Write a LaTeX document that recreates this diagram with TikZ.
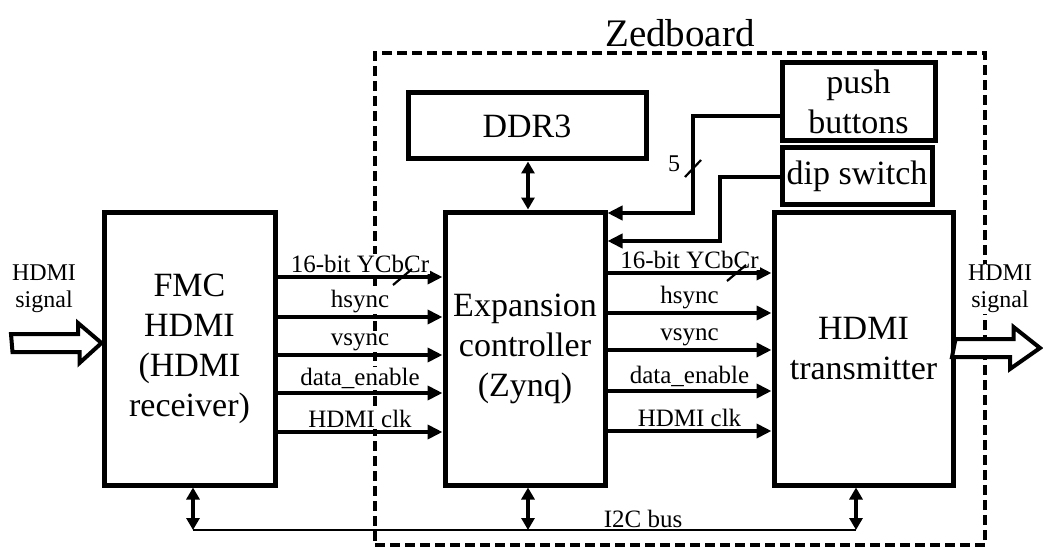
\documentclass[tikz,border=0pt]{standalone}
\usepackage{fontspec}
\setmainfont{Liberation Serif}
\usetikzlibrary{calc, arrows.meta}
\tikzstyle{block}  = [rectangle, draw=black, line width=5pt, text centered, align=center, inner sep=0pt, font=\fontsize{34}{40}\selectfont]
\tikzstyle{sig}    = [line width=4.5pt, -{Triangle[length=15pt,width=14pt]}]
\tikzstyle{bidir}  = [line width=4.5pt, {Triangle[length=12pt,width=13pt]}-{Triangle[length=12pt,width=13pt]}]
\tikzstyle{lbl}    = [font=\fontsize{25}{28}\selectfont, inner sep=1pt, anchor=south, fill=white]
\tikzstyle{fat}    = [line width=4pt, line join=miter, fill=white]
\tikzstyle{tick}   = [line width=2.2pt]

\begin{document}
\begin{tikzpicture}[x=1pt, y=-1pt]
    \useasboundingbox (0,0) rectangle (1043,548);

    \node (zed)  [draw, line width=4pt, dash pattern=on 10pt off 5pt, minimum width=610, minimum height=492, inner sep=0pt] at (680,299) {};
    \node (zedlbl) [anchor=south, inner sep=0pt, font=\fontsize{39}{44}\selectfont] at (680,47) {Zedboard};

    \node (fmc)  [block, minimum width=171, minimum height=273] at (189.5,348.5) {FMC\\HDMI\\(HDMI\\receiver)};
    \node (exp)  [block, minimum width=160, minimum height=273] at (525,348.5) {Expansion\\controller\\(Zynq)};
    \node (tx)   [block, minimum width=179, minimum height=273] at (863.5,348.5) {HDMI\\transmitter};
    \node (ddr)  [block, minimum width=238, minimum height=66] at (527,126) {DDR3};
    \node (push) [block, minimum width=153, minimum height=78] at (858.5,102) {push\\buttons};
    \node (dip)  [block, minimum width=150, minimum height=56] at (857,176) {dip switch};

    % video signals
    \foreach \y/\txt in {277/16-bit YCbCr, 317/hsync, 355/vsync, 393/data\_enable, 432/HDMI clk} {
        \coordinate (l) at (0,\y);
        \draw [sig] (fmc.east |- l) -- (exp.west |- l);
        \node [lbl] at ($(fmc.east |- l)!0.5!(exp.west |- l) + (0,-3)$) {\txt};
    }
    \foreach \y/\txt in {273/16-bit YCbCr, 313/hsync, 350/vsync, 391/data\_enable, 431/HDMI clk} {
        \coordinate (r) at (0,\y);
        \draw [sig] (exp.east |- r) -- (tx.west |- r);
        \node [lbl] at ($(exp.east |- r)!0.5!(tx.west |- r) + (0,-3)$) {\txt};
    }
    \draw [tick] (393,285) -- (412,269);
    \draw [tick] (727,281) -- (746,265);

    % DDR3 and buttons
    \draw [bidir] (ddr.south -| 528,0) -- (exp.north -| 528,0);
    \coordinate (pb) at (693,116);
    \coordinate (pin) at (0,213);
    \draw [sig] (push.west |- pb) -- (pb) -- (pb |- pin) -- (exp.east |- pin);
    \draw [tick] (685,177) -- (701,160);
    \node (five) [font=\fontsize{24}{26}\selectfont, inner sep=0pt] at (674,164) {5};
    \coordinate (ds) at (720,177);
    \coordinate (din) at (0,241);
    \draw [sig] (dip.west |- ds) -- (ds) -- (ds |- din) -- (exp.east |- din);

    % I2C bus
    \coordinate (b1) at (193,530);
    \coordinate (b2) at (528,530);
    \coordinate (b3) at (856,530);
    \draw [line width=2pt] (b1) -- (b3);
    \draw [bidir] (fmc.south -| b1) -- (b1);
    \draw [bidir] (exp.south -| b2) -- (b2);
    \draw [bidir] (tx.south -| b3) -- (b3);
    \node (i2c) [lbl, fill=none] at (643,529) {I2C bus};

    % HDMI in / out
    \node (inlbl)  [font=\fontsize{24}{27}\selectfont, align=center, inner sep=1pt] at (44,289) {HDMI\\signal};
    \node (outlbl) [font=\fontsize{24}{27}\selectfont, align=center, inner sep=1pt, fill=white] at (1000,289) {HDMI\\signal};
    \coordinate (hin) at (11,343);
    \draw [fat] (hin) ++(0,-9) -- ++(67,0) -- ++(0,-11) -- (fmc.west |- hin) -- ++(-22,20) -- ++(0,-11) -- ++(-67,0) -- cycle;
    \coordinate (hout) at (1040,348);
    \draw [fat] (tx.east |- hout) ++(0,-9) -- ++(58,0) -- ++(0,-12) -- (hout) -- ++(-30,21) -- ++(0,-12) -- ++(-58,0) -- cycle;
\end{tikzpicture}
\end{document}
